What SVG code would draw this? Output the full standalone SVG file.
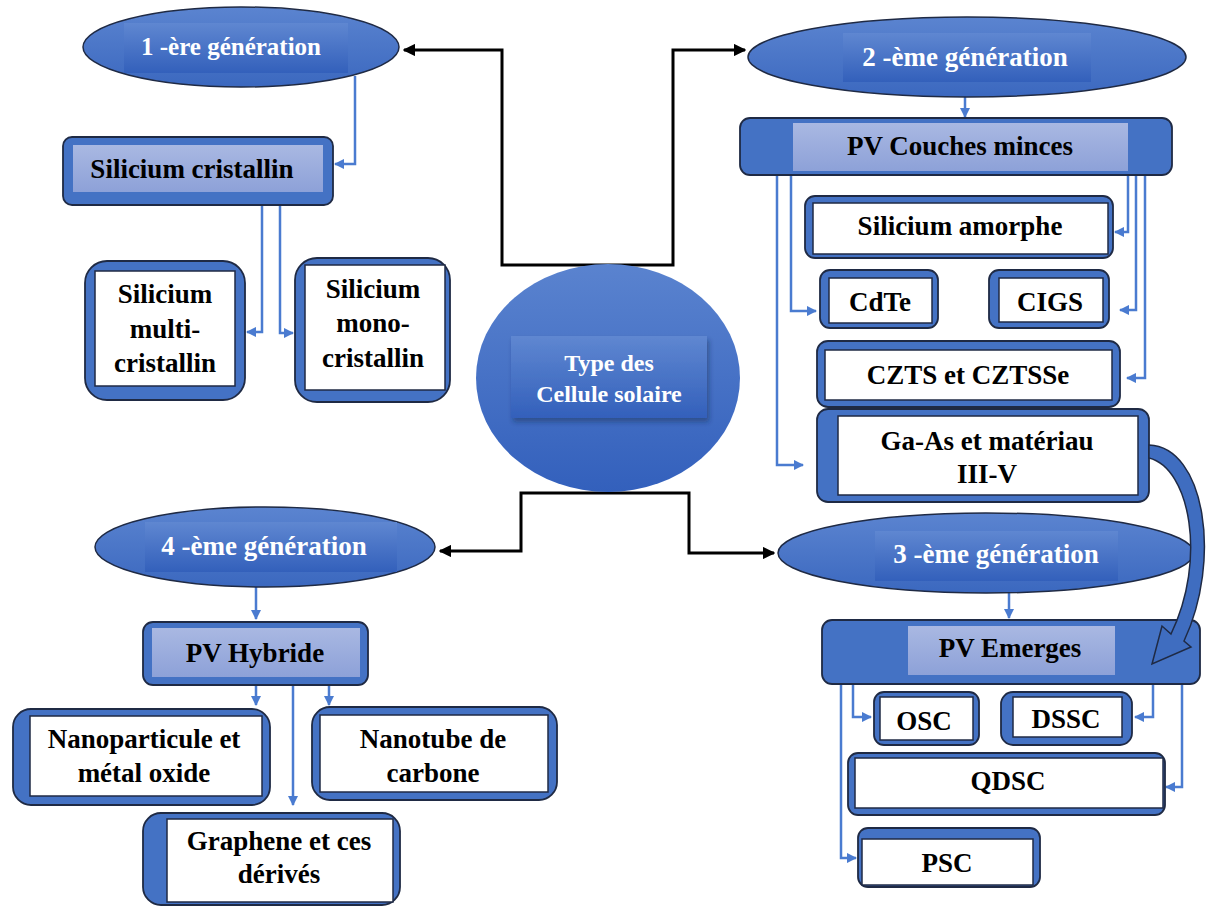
<svg xmlns="http://www.w3.org/2000/svg" width="1213" height="906" viewBox="0 0 1213 906">
<defs>
<linearGradient id="gEll" x1="0" y1="0" x2="0" y2="1"><stop offset="0" stop-color="#5B84D0"/><stop offset="1" stop-color="#3B68BF"/></linearGradient>
<linearGradient id="gLab" x1="0" y1="0" x2="0" y2="1"><stop offset="0" stop-color="#5F87D1"/><stop offset="1" stop-color="#3360BB"/></linearGradient>
<linearGradient id="gLight" x1="0" y1="0" x2="0" y2="1"><stop offset="0" stop-color="#A9B8E2"/><stop offset="1" stop-color="#8DA1D8"/></linearGradient>
<linearGradient id="gCirc" x1="0" y1="0" x2="0" y2="1"><stop offset="0" stop-color="#5A83CF"/><stop offset="1" stop-color="#3360BC"/></linearGradient>
<marker id="ab" viewBox="0 0 10 10" refX="9" refY="5" markerWidth="4.2" markerHeight="4.2" orient="auto" markerUnits="strokeWidth"><path d="M0,0 L10,5 L0,10 z" fill="#4A7BD0"/></marker>
<marker id="ak" viewBox="0 0 10 10" refX="9" refY="5" markerWidth="4.2" markerHeight="4.2" orient="auto" markerUnits="strokeWidth"><path d="M0,0 L10,5 L0,10 z" fill="#000"/></marker>
<filter id="sh" x="-10%" y="-10%" width="130%" height="140%"><feDropShadow dx="2" dy="4" stdDeviation="2.5" flood-color="#1a2a50" flood-opacity="0.45"/></filter>
</defs>
<style>
.ell{fill:url(#gEll);stroke:#1F2A44;stroke-width:1.5}
.lab{fill:url(#gLab)}
.out{fill:#4472C4;stroke:#1F2A44;stroke-width:1.8}
.lt{fill:url(#gLight)}
.wh{fill:#fff;stroke:#1F2A44;stroke-width:1.5}
.t{font-family:"Liberation Serif","Times New Roman",serif;font-weight:bold;font-size:27px;fill:#000;text-anchor:middle}
.tw{font-family:"Liberation Serif","Times New Roman",serif;font-weight:bold;font-size:27px;fill:#fff;text-anchor:middle}
.cb{fill:none;stroke:#4A7BD0;stroke-width:2.5;marker-end:url(#ab)}
.ck{fill:none;stroke:#000;stroke-width:3;marker-end:url(#ak)}
</style>
<rect width="1213" height="906" fill="#fff"/>

<g id="connectors">
<path class="ck" d="M608,265 L502,265 L502,50 L404,50"/>
<path class="ck" d="M608,265 L673,265 L673,50 L745,50"/>
<path class="ck" d="M604,493 L521,493 L521,551 L440,551"/>
<path class="ck" d="M604,493 L689,493 L689,553 L774,553"/>
<path class="cb" d="M355,76 L355,164 L335,164"/>
<path class="cb" d="M262,205 L262,332 L247,332"/>
<path class="cb" d="M280,205 L280,333 L293,333"/>
<path class="cb" d="M965,97 L965,117"/>
<path class="cb" d="M791,175 L791,311 L816,311"/>
<path class="cb" d="M777,175 L777,465 L803,465"/>
<path class="cb" d="M1128,175 L1128,232 L1115,232"/>
<path class="cb" d="M1136,175 L1136,310 L1120,310"/>
<path class="cb" d="M1145,175 L1145,378 L1127,378"/>
<path class="cb" d="M1009,593 L1009,618"/>
<path class="cb" d="M853,684 L853,717 L871,717"/>
<path class="cb" d="M1153,684 L1153,717 L1135,717"/>
<path class="cb" d="M1182,684 L1182,787 L1166,787"/>
<path class="cb" d="M841,684 L841,858 L856,858"/>
<path class="cb" d="M256,587 L256,619"/>
<path class="cb" d="M256,685 L256,705"/>
<path class="cb" d="M293,685 L293,805"/>
<path class="cb" d="M329,685 L329,705"/>
</g>

<g id="center">
<ellipse cx="608" cy="378" rx="132" ry="114" fill="url(#gCirc)"/>
<rect x="511" y="336" width="196" height="82" class="lab" filter="url(#sh)"/>
<text class="tw" style="font-size:24px" x="609" y="371">Type des</text>
<text class="tw" style="font-size:24px" x="609" y="402">Cellule solaire</text>
</g>

<g id="gen1">
<ellipse cx="241" cy="47" rx="158" ry="40" class="ell"/>
<rect x="124" y="23" width="224" height="50" class="lab"/>
<text class="tw" style="font-size:25px" x="231" y="55">1 -ère génération</text>
</g>

<g id="silicium-cristallin">
<rect x="63" y="137" width="270" height="68" rx="9" class="out"/>
<rect x="73" y="145" width="250" height="47" class="lt"/>
<text class="t" x="192" y="178">Silicium cristallin</text>
</g>

<g id="silicium-multi">
<rect x="85" y="261" width="160" height="139" rx="22" class="out"/>
<rect x="95" y="271" width="140" height="115" class="wh"/>
<text class="t" x="165" y="303">Silicium</text>
<text class="t" x="165" y="338">multi-</text>
<text class="t" x="165" y="372">cristallin</text>
</g>

<g id="silicium-mono">
<rect x="295" y="258" width="155" height="144" rx="22" class="out"/>
<rect x="305" y="265" width="140" height="125" class="wh"/>
<text class="t" x="373" y="298">Silicium</text>
<text class="t" x="373" y="332">mono-</text>
<text class="t" x="373" y="367">cristallin</text>
</g>

<g id="gen2">
<ellipse cx="967" cy="57" rx="219" ry="40" class="ell"/>
<rect x="843" y="33" width="248" height="49" class="lab"/>
<text class="tw" x="965" y="66">2 -ème génération</text>
</g>

<g id="pv-couches-minces">
<rect x="740" y="118" width="432" height="57" rx="10" class="out"/>
<rect x="793" y="123" width="335" height="48" class="lt"/>
<text class="t" x="960" y="155">PV Couches minces</text>
</g>

<g id="silicium-amorphe">
<rect x="805" y="196" width="308" height="62" rx="10" class="out"/>
<rect x="813" y="203" width="295" height="51" class="wh"/>
<text class="t" x="960" y="235">Silicium amorphe</text>
</g>

<g id="cdte">
<rect x="820" y="270" width="118" height="58" rx="10" class="out"/>
<rect x="829" y="278" width="103" height="45" class="wh"/>
<text class="t" x="880" y="311">CdTe</text>
</g>

<g id="cigs">
<rect x="989" y="270" width="120" height="58" rx="10" class="out"/>
<rect x="999" y="278" width="104" height="44" class="wh"/>
<text class="t" x="1050" y="311">CIGS</text>
</g>

<g id="czts">
<rect x="817" y="341" width="303" height="66" rx="11" class="out"/>
<rect x="825" y="350" width="287" height="50" class="wh"/>
<text class="t" x="968" y="384">CZTS et CZTSSe</text>
</g>

<g id="gaas">
<rect x="817" y="409" width="332" height="93" rx="11" class="out"/>
<rect x="838" y="416" width="300" height="79" class="wh"/>
<text class="t" x="987" y="450">Ga-As et matériau</text>
<text class="t" x="987" y="483">III-V</text>
</g>

<g id="gen3">
<ellipse cx="986" cy="553" rx="208" ry="40" class="ell"/>
<rect x="875" y="531" width="243" height="50" class="lab"/>
<text class="tw" x="996" y="563">3 -ème génération</text>
</g>

<g id="pv-emerges">
<rect x="822" y="620" width="378" height="64" rx="10" class="out"/>
<rect x="908" y="626" width="207" height="49" class="lt"/>
<text class="t" x="1010" y="657">PV Emerges</text>
</g>

<g id="curved-arrow">
<path d="M1149,445 C1205,447 1222,560 1184,641 L1191,647 L1152,664 L1162,626 L1171,634 C1207,560 1190,468 1149,458 Z" fill="#3F6DC0" stroke="#1F2A44" stroke-width="1.5"/>
</g>

<g id="osc">
<rect x="874" y="692" width="105" height="53" rx="10" class="out"/>
<rect x="880" y="697" width="93" height="43" class="wh"/>
<text class="t" x="924" y="730">OSC</text>
</g>

<g id="dssc">
<rect x="1001" y="692" width="131" height="53" rx="12" class="out"/>
<rect x="1013" y="697" width="109" height="40" class="wh"/>
<text class="t" x="1066" y="728">DSSC</text>
</g>

<g id="qdsc">
<rect x="848" y="753" width="317" height="62" rx="10" class="out"/>
<rect x="855" y="758" width="308" height="50" class="wh"/>
<text class="t" x="1008" y="790">QDSC</text>
</g>

<g id="psc">
<rect x="858" y="828" width="182" height="59" rx="10" class="out"/>
<rect x="862" y="839" width="171" height="46" class="wh"/>
<text class="t" x="947" y="872">PSC</text>
</g>

<g id="gen4">
<ellipse cx="265" cy="547" rx="170" ry="40" class="ell"/>
<rect x="145" y="522" width="252" height="50" class="lab"/>
<text class="tw" x="264" y="555">4 -ème génération</text>
</g>

<g id="pv-hybride">
<rect x="143" y="622" width="225" height="63" rx="10" class="out"/>
<rect x="152" y="628" width="208" height="49" class="lt"/>
<text class="t" x="255" y="662">PV Hybride</text>
</g>

<g id="nanoparticule">
<rect x="13" y="709" width="257" height="96" rx="18" class="out"/>
<rect x="30" y="716" width="232" height="80" class="wh"/>
<text class="t" x="144" y="748">Nanoparticule et</text>
<text class="t" x="144" y="782">métal oxide</text>
</g>

<g id="nanotube">
<rect x="312" y="707" width="245" height="93" rx="18" class="out"/>
<rect x="320" y="715" width="228" height="77" class="wh"/>
<text class="t" x="433" y="748">Nanotube de</text>
<text class="t" x="433" y="782">carbone</text>
</g>

<g id="graphene">
<rect x="143" y="813" width="257" height="92" rx="18" class="out"/>
<rect x="167" y="819" width="226" height="83" class="wh"/>
<text class="t" x="279" y="850">Graphene et ces</text>
<text class="t" x="279" y="883">dérivés</text>
</g>
</svg>
